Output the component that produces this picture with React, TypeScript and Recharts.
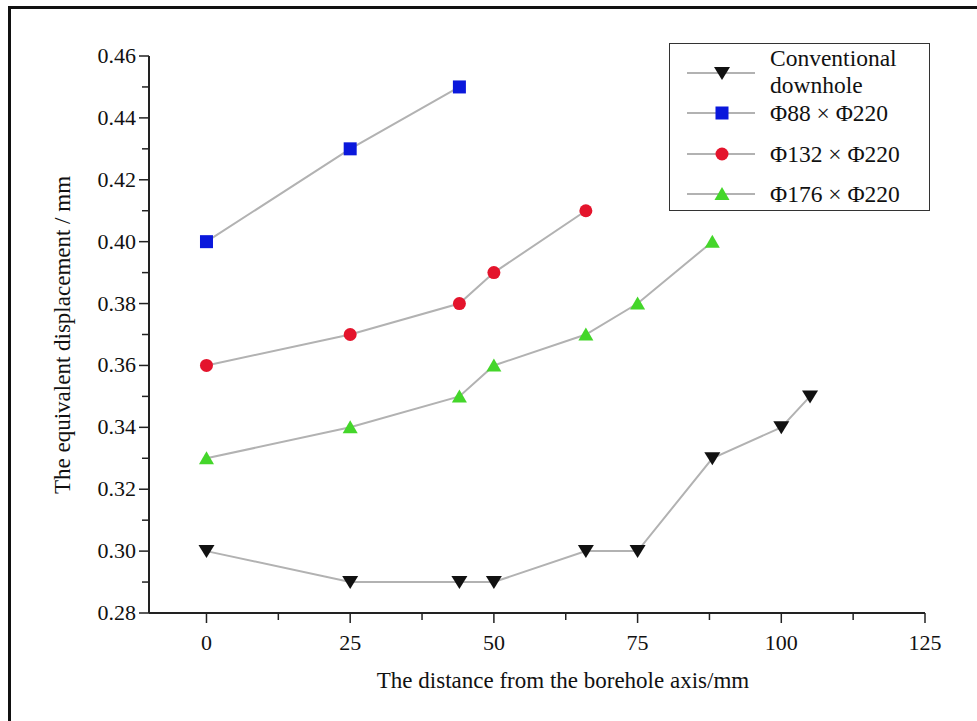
import React from "react";
import { LineChart, Line, XAxis, YAxis, Legend } from "recharts";

// data
const conventional = [
  { x: 0, y: 0.3 },
  { x: 25, y: 0.29 },
  { x: 44, y: 0.29 },
  { x: 50, y: 0.29 },
  { x: 66, y: 0.3 },
  { x: 75, y: 0.3 },
  { x: 88, y: 0.33 },
  { x: 100, y: 0.34 },
  { x: 105, y: 0.35 },
];
const phi88 = [
  { x: 0, y: 0.4 },
  { x: 25, y: 0.43 },
  { x: 44, y: 0.45 },
];
const phi132 = [
  { x: 0, y: 0.36 },
  { x: 25, y: 0.37 },
  { x: 44, y: 0.38 },
  { x: 50, y: 0.39 },
  { x: 66, y: 0.41 },
];
const phi176 = [
  { x: 0, y: 0.33 },
  { x: 25, y: 0.34 },
  { x: 44, y: 0.35 },
  { x: 50, y: 0.36 },
  { x: 66, y: 0.37 },
  { x: 75, y: 0.38 },
  { x: 88, y: 0.4 },
];

const xTicks = [-10, 0, 12.5, 25, 37.5, 50, 62.5, 75, 87.5, 100, 112.5, 125];
const xMajor = [0, 25, 50, 75, 100, 125];
const yTicks = [
  0.28, 0.29, 0.3, 0.31, 0.32, 0.33, 0.34, 0.35, 0.36, 0.37, 0.38, 0.39, 0.4,
  0.41, 0.42, 0.43, 0.44, 0.45, 0.46,
];

const FONT = "Liberation Serif, Times New Roman, serif";
const TXT = { fontFamily: FONT } as const;
const LINE_GRAY = "#b2b2b2";

type Kind = "down" | "square" | "circle" | "up";

const series: { name: string[]; data: { x: number; y: number }[]; kind: Kind; color: string }[] = [
  { name: ["Conventional", "downhole"], data: conventional, kind: "down", color: "#111111" },
  { name: ["Φ88 × Φ220"], data: phi88, kind: "square", color: "#0a18dc" },
  { name: ["Φ132 × Φ220"], data: phi132, kind: "circle", color: "#e4142c" },
  { name: ["Φ176 × Φ220"], data: phi176, kind: "up", color: "#44d62a" },
];

function Marker({ cx, cy, kind, color }: { cx: number; cy: number; kind: Kind; color: string }) {
  if (kind === "square")
    return <rect x={cx - 6.5} y={cy - 6.5} width={13} height={13} fill={color} />;
  if (kind === "circle") return <circle cx={cx} cy={cy} r={6.5} fill={color} />;
  if (kind === "up")
    return <polygon points={`${cx - 7.5},${cy + 6} ${cx + 7.5},${cy + 6} ${cx},${cy - 7}`} fill={color} />;
  return <polygon points={`${cx - 8},${cy - 6} ${cx + 8},${cy - 6} ${cx},${cy + 7}`} fill={color} />;
}

const dotFor = (kind: Kind, color: string) => (p: any) => (
  <Marker key={`${kind}-${p.index}`} cx={p.cx} cy={p.cy} kind={kind} color={color} />
);

function XTick(props: any) {
  const { x, y, payload } = props;
  const major = xMajor.includes(payload.value);
  if (payload.value === -10) return <g />;
  return (
    <g>
      <line x1={x} x2={x} y1={y} y2={y + (major ? 10 : 7)} stroke="#222" strokeWidth={1.5} />
      {major && (
        <text x={x} y={y + 37} textAnchor="middle" style={TXT} fontSize={22} fill="#111">
          {payload.value}
        </text>
      )}
    </g>
  );
}

function YTick(props: any) {
  const { x, y, payload } = props;
  const major = Math.round(payload.value * 100) % 2 === 0;
  return (
    <g>
      <line x1={x - (major ? 10 : 7)} x2={x} y1={y} y2={y} stroke="#222" strokeWidth={1.5} />
      {major && (
        <text x={x - 13} y={y + 7} textAnchor="end" style={TXT} fontSize={22} fill="#111">
          {payload.value.toFixed(2)}
        </text>
      )}
    </g>
  );
}

function LegendBox() {
  const rows = [
    { marker: 29, lines: [22, 49] },
    { marker: 69, lines: [77] },
    { marker: 110, lines: [118] },
    { marker: 150, lines: [158] },
  ];
  return (
    <div
      style={{
        width: 261,
        height: 168,
        boxSizing: "border-box",
        border: "1.5px solid #333",
        background: "#fff",
      }}
    >
      <svg width={258} height={165} style={{ display: "block" }}>
        {series.map((s, i) => (
          <g key={i}>
            <line x1={17} x2={85} y1={rows[i].marker} y2={rows[i].marker} stroke={LINE_GRAY} strokeWidth={2} />
            <Marker cx={52} cy={rows[i].marker} kind={s.kind} color={s.color} />
            {s.name.map((t, j) => (
              <text key={j} x={100} y={rows[i].lines[j]} style={TXT} fontSize={23.5} fill="#111">
                {t}
              </text>
            ))}
          </g>
        ))}
      </svg>
    </div>
  );
}

export default function App() {
  return (
    <div style={{ position: "absolute", left: 0, top: 0, width: 977, height: 721, background: "#fff" }}>
      <div
        style={{
          position: "absolute",
          left: 8,
          top: 6,
          width: 969,
          height: 715,
          boxSizing: "border-box",
          borderTop: "3px solid #111",
          borderLeft: "3px solid #111",
        }}
      />
      <div style={{ position: "absolute", left: 0, top: 0 }}>
        <LineChart width={977} height={721} margin={{ top: 56, right: 52, left: 79, bottom: 38 }}>
          <XAxis
            type="number"
            dataKey="x"
            domain={[-10, 125]}
            ticks={xTicks}
            interval={0}
            allowDataOverflow
            height={70}
            tickSize={0}
            tickMargin={0}
            tickLine={false}
            axisLine={{ stroke: "#222", strokeWidth: 2 }}
            tick={<XTick />}
            label={{
              content: () => (
                <text x={563} y={688} textAnchor="middle" style={TXT} fontSize={23} fill="#111">
                  The distance from the borehole axis/mm
                </text>
              ),
            }}
          />
          <YAxis
            type="number"
            dataKey="y"
            domain={[0.28, 0.46]}
            ticks={yTicks}
            interval={0}
            allowDataOverflow
            width={70}
            tickSize={0}
            tickMargin={0}
            tickLine={false}
            axisLine={{ stroke: "#222", strokeWidth: 2 }}
            tick={<YTick />}
            label={{
              content: () => (
                <text
                  x={0}
                  y={0}
                  transform="translate(62,335) rotate(-90)"
                  textAnchor="middle"
                  dominantBaseline="central"
                  style={TXT}
                  fontSize={23}
                  fill="#111"
                >
                  The equivalent displacement / mm
                </text>
              ),
            }}
          />
          <Legend
            layout="vertical"
            align="center"
            verticalAlign="middle"
            content={() => <LegendBox />}
            wrapperStyle={{ left: 669, top: 43, width: 261, height: 168 }}
          />
          {series.map((s) => (
            <Line
              key={s.name.join(" ")}
              data={s.data}
              dataKey="y"
              name={s.name.join(" ")}
              stroke={LINE_GRAY}
              strokeWidth={2}
              dot={dotFor(s.kind, s.color)}
              activeDot={false}
              isAnimationActive={false}
            />
          ))}
        </LineChart>
      </div>
    </div>
  );
}
